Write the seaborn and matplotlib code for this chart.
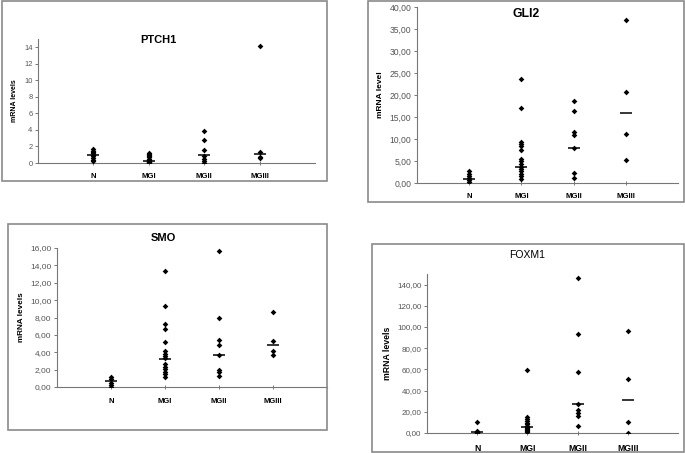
import numpy as np
import pandas as pd
import seaborn as sns
from matplotlib import pyplot as plt
from matplotlib.patches import Rectangle
from matplotlib.ticker import FuncFormatter, MultipleLocator

groups = ['N', 'MGI', 'MGII', 'MGIII']

# PTCH1
ptch1_N = [1.75, 1.5, 1.3, 1.15, 1.0, 0.85, 0.6, 0.4, 0.25]
ptch1_MGI = [1.25, 1.1, 1.0, 0.9, 0.7, 0.5, 0.35, 0.25, 0.2, 0.15, 0.1, 0.05, 0.02]
ptch1_MGII = [3.93, 2.75, 1.54, 0.85, 0.53, 0.24, 0.04]
ptch1_MGIII = [14.1, 1.35, 0.7, 0.65]
ptch1_median = [1.0, 0.3, 0.93, 1.05]

# GLI2
gli2_N = [2.73, 2.12, 1.6, 1.14, 0.76, 0.3]
gli2_MGI = [23.6, 17.0, 9.4, 8.9, 8.3, 7.6, 5.4, 4.9, 4.4, 3.6, 3.1, 2.65, 2.1, 1.6, 1.0]
gli2_MGII = [18.6, 16.4, 11.7, 10.8, 7.9, 2.2, 1.1]
gli2_MGIII = [37.0, 20.7, 11.1, 5.3]
gli2_median = [0.98, 3.7, 7.9, 15.9]

# SMO
smo_N = [1.15, 0.96, 0.46, 0.19, 0.0]
smo_MGI = [13.35, 9.35, 7.27, 6.65, 5.19, 4.12, 3.8, 3.54, 3.3, 2.6, 2.35, 2.04, 1.73, 1.5, 1.1]
smo_MGII = [15.7, 7.9, 5.4, 4.8, 3.65, 2.0, 1.73, 1.23]
smo_MGIII = [8.6, 5.3, 4.2, 3.7]
smo_median = [0.73, 3.23, 3.65, 4.8]

# FOXM1
foxm1_N = [10.5, 2.0, 1.2, 0.8, 0.5, 0.2, 0.0]
foxm1_MGI = [59.4, 15.5, 13.5, 11.5, 9.8, 8.2, 6.6, 5.4, 4.5, 3.5, 2.5, 1.5, 0.6]
foxm1_MGII = [146.0, 93.2, 57.5, 27.5, 21.8, 18.6, 16.4, 7.0]
foxm1_MGIII = [96.0, 50.9, 10.4, 0.0]
foxm1_median = [0.6, 5.4, 27.2, 31.3]

W, H = 685, 453
plt.rcParams['font.family'] = ['Liberation Sans', 'DejaVu Sans']

fig = plt.figure(figsize=(W / 100, H / 100), dpi=100)
fig.patch.set_facecolor('white')


def px(l, t, r, b):
    return [l / W, 1 - b / H, (r - l) / W, (b - t) / H]


def comma(v, pos):
    return '{:.2f}'.format(v).replace('.', ',')


def panel(box, axbox, title, title_xy, title_bold, title_size, cols, median,
          ylab, ymax, step, fmt, tick_size, cat_size, ylab_size, cat_pad):
    l, t, r, b = box
    fig.add_artist(Rectangle((l / W, 1 - b / H), (r - l) / W, (b - t) / H,
                             transform=fig.transFigure, fill=False,
                             edgecolor='#8a8a8a', linewidth=1.2))
    ax = fig.add_axes(px(*axbox))
    df = pd.DataFrame({'group': np.repeat(groups, [len(c) for c in cols]),
                       'value': np.concatenate(cols)})
    sns.stripplot(data=df, x='group', y='value', order=groups, jitter=False,
                  marker='D', color='black', size=2.9, linewidth=0, ax=ax)
    sns.stripplot(x=groups, y=median, order=groups, jitter=False,
                  marker='_', color='black', size=8.5, linewidth=1.1, ax=ax)
    ax.set_xlim(-1, 4)
    ax.set_ylim(0, ymax)
    ax.yaxis.set_major_locator(MultipleLocator(step))
    if fmt:
        ax.yaxis.set_major_formatter(FuncFormatter(comma))
    for s in ['top', 'right']:
        ax.spines[s].set_visible(False)
    for s in ['left', 'bottom']:
        ax.spines[s].set_color('#777777')
        ax.spines[s].set_linewidth(0.8)
    ax.tick_params(axis='y', labelsize=tick_size, labelcolor='#555555',
                   color='#777777', length=2.5, width=0.7, pad=1.5)
    ax.tick_params(axis='x', labelsize=cat_size, color='#777777', length=2.5,
                   width=0.7, direction='inout', pad=cat_pad)
    for lbl in ax.get_xticklabels():
        lbl.set_fontweight('bold')
    ax.set_xlabel('')
    ax.set_ylabel(ylab, fontsize=ylab_size, fontweight='bold', labelpad=4)
    ax.set_facecolor('none')
    fig.text(title_xy[0] / W, 1 - title_xy[1] / H, title,
             ha='center', va='center', fontsize=title_size,
             fontweight='bold' if title_bold else 'normal')
    return ax


panel((2, 1, 327, 181), (38, 39, 315, 163), 'PTCH1', (158, 40), True, 8,
      [ptch1_N, ptch1_MGI, ptch1_MGII, ptch1_MGIII], ptch1_median,
      'mRNA levels', 15, 2, False, 5.4, 5.6, 5.0, 6)

panel((368, 1, 684, 202), (417, 7, 678, 183), 'GLI2', (526, 14), True, 8.8,
      [gli2_N, gli2_MGI, gli2_MGII, gli2_MGIII], gli2_median,
      'mRNA level', 40, 5, True, 6.2, 5.6, 6.0, 6)

panel((8, 224, 327, 430), (57, 248, 327, 387), 'SMO', (163, 238), True, 8,
      [smo_N, smo_MGI, smo_MGII, smo_MGIII], smo_median,
      'mRNA levels', 16, 2, True, 6.0, 5.5, 5.9, 7)

panel((372, 244, 684, 452), (427, 274, 678, 433), 'FOXM1', (527, 255), False, 7.5,
      [foxm1_N, foxm1_MGI, foxm1_MGII, foxm1_MGIII], foxm1_median,
      'mRNA levels', 150, 20, True, 5.8, 6.2, 6.3, 7)

plt.savefig('out.png', dpi=100)
